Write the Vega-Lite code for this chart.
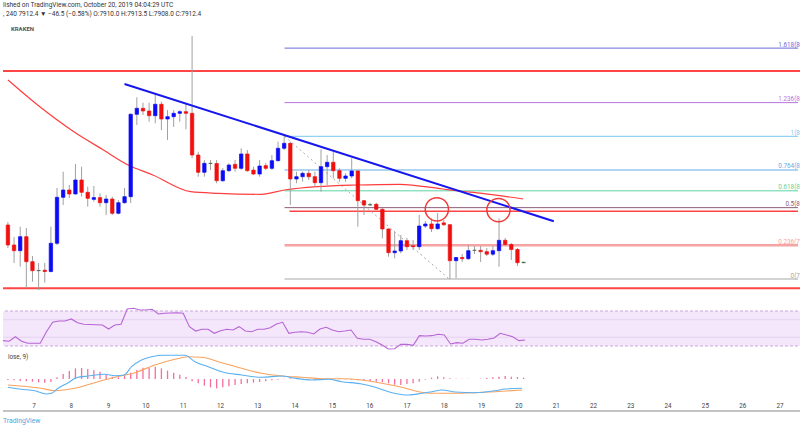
{
  "$schema": "https://vega.github.io/schema/vega-lite/v6.json",
  "background": "white",
  "padding": {"left": 0, "top": 2, "right": 0, "bottom": 0},
  "spacing": 0,
  "config": {
    "view": {"stroke": null},
    "font": "Roboto",
    "axis": {"gridColor": "#ececec", "gridWidth": 1}
  },
  "title": {
    "text": "lished on TradingView.com, October 20, 2019 04:04:29 UTC",
    "subtitle": ", 240  7912.4 ▼ −46.5 (−0.58%)  O:7910.0  H:7913.5  L:7908.0  C:7912.4",
    "anchor": "start",
    "frame": "group",
    "fontSize": 6.5,
    "fontWeight": "normal",
    "color": "#333333",
    "subtitleFontSize": 6.5,
    "subtitleColor": "#333333",
    "subtitlePadding": 2,
    "offset": 3
  },
  "datasets": {
    "candles": [
      {"t":6.1667,"o":8081.5,"h":8095,"l":7977,"c":7990.6},
      {"t":6.3333,"o":7990.6,"h":8027,"l":7909,"c":7964.7},
      {"t":6.5,"o":7964.7,"h":8073.7,"l":7892,"c":8028.3},
      {"t":6.6667,"o":8028.3,"h":8067.8,"l":7795,"c":7914.7},
      {"t":6.8333,"o":7914.7,"h":7940.6,"l":7823.8,"c":7873.8},
      {"t":7,"o":7873.8,"h":7908.8,"l":7786,"c":7875},
      {"t":7.1667,"o":7876,"h":7908.8,"l":7819.2,"c":7870},
      {"t":7.3333,"o":7870,"h":8073.7,"l":7866,"c":7998.3},
      {"t":7.5,"o":7998.3,"h":8249.6,"l":7990.6,"c":8207.4},
      {"t":7.6667,"o":8207.4,"h":8323.7,"l":8172.4,"c":8240.5},
      {"t":7.8333,"o":8240.5,"h":8263.3,"l":8204.2,"c":8222.4},
      {"t":8,"o":8222.4,"h":8358.7,"l":8220,"c":8286},
      {"t":8.1667,"o":8286,"h":8346.5,"l":8210.1,"c":8230.1},
      {"t":8.3333,"o":8230.1,"h":8255.6,"l":8164.7,"c":8202.8},
      {"t":8.5,"o":8198,"h":8258.7,"l":8187.4,"c":8206},
      {"t":8.6667,"o":8206,"h":8225.6,"l":8164.7,"c":8182.8},
      {"t":8.8333,"o":8182.8,"h":8217.8,"l":8126.9,"c":8199.6},
      {"t":9,"o":8199.6,"h":8210.1,"l":8126.9,"c":8134.7},
      {"t":9.1667,"o":8134.7,"h":8195.1,"l":8130,"c":8182.8},
      {"t":9.3333,"o":8182.8,"h":8249.6,"l":8178,"c":8210.1},
      {"t":9.5,"o":8210.1,"h":8589,"l":8181.5,"c":8584.6},
      {"t":9.6667,"o":8584.6,"h":8661.9,"l":8536,"c":8611.9},
      {"t":9.8333,"o":8611.9,"h":8637.3,"l":8581.4,"c":8599.6},
      {"t":10,"o":8599.6,"h":8637.3,"l":8551,"c":8578.2},
      {"t":10.1667,"o":8578.2,"h":8672.3,"l":8543.7,"c":8630.1},
      {"t":10.3333,"o":8630.1,"h":8641.9,"l":8513.2,"c":8563.2},
      {"t":10.5,"o":8563.2,"h":8604.1,"l":8467.8,"c":8573.7},
      {"t":10.6667,"o":8573.7,"h":8604.1,"l":8526.9,"c":8589.1},
      {"t":10.8333,"o":8589.1,"h":8604.1,"l":8551,"c":8596.4},
      {"t":11,"o":8596.4,"h":8631.4,"l":8516.4,"c":8589.1},
      {"t":11.1667,"o":8589.1,"h":8940.5,"l":8384.6,"c":8399.6},
      {"t":11.3333,"o":8399.6,"h":8414.6,"l":8301,"c":8321},
      {"t":11.5,"o":8321,"h":8376.9,"l":8301,"c":8361.9},
      {"t":11.6667,"o":8361.9,"h":8376.9,"l":8331.4,"c":8361},
      {"t":11.8333,"o":8361,"h":8376.9,"l":8271,"c":8282.8},
      {"t":12,"o":8282.8,"h":8340.5,"l":8276.9,"c":8328.3},
      {"t":12.1667,"o":8328.3,"h":8361.9,"l":8323.7,"c":8354.2},
      {"t":12.3333,"o":8357,"h":8376.9,"l":8323.7,"c":8339.2},
      {"t":12.5,"o":8339.2,"h":8430.1,"l":8331.4,"c":8404.2},
      {"t":12.6667,"o":8404.2,"h":8422.3,"l":8323.7,"c":8328.3},
      {"t":12.8333,"o":8331,"h":8346.5,"l":8308.7,"c":8313.3},
      {"t":13,"o":8313.3,"h":8376.9,"l":8301,"c":8349.6},
      {"t":13.1667,"o":8351,"h":8363.3,"l":8331.4,"c":8339.2},
      {"t":13.3333,"o":8339.2,"h":8399.6,"l":8331.4,"c":8373.7},
      {"t":13.5,"o":8373.7,"h":8460.1,"l":8370,"c":8430.1},
      {"t":13.6667,"o":8430.1,"h":8484.6,"l":8422.3,"c":8452.8},
      {"t":13.8333,"o":8452.8,"h":8460.1,"l":8172.4,"c":8290.5},
      {"t":14,"o":8290.5,"h":8323.7,"l":8271,"c":8301},
      {"t":14.1667,"o":8301,"h":8323.7,"l":8278.3,"c":8316.4},
      {"t":14.3333,"o":8316.4,"h":8331.4,"l":8286,"c":8301},
      {"t":14.5,"o":8301,"h":8323.7,"l":8255.6,"c":8273.7},
      {"t":14.6667,"o":8273.7,"h":8425.5,"l":8232.8,"c":8346.5},
      {"t":14.8333,"o":8346.5,"h":8399.6,"l":8263.3,"c":8366.5},
      {"t":15,"o":8366.5,"h":8414.6,"l":8293.7,"c":8328.3},
      {"t":15.1667,"o":8328.3,"h":8339.2,"l":8278.3,"c":8293.7},
      {"t":15.3333,"o":8293.7,"h":8316.4,"l":8278.3,"c":8304.2},
      {"t":15.5,"o":8304.2,"h":8384.6,"l":8293.7,"c":8326.9},
      {"t":15.6667,"o":8326.9,"h":8331.4,"l":8073.7,"c":8191.9},
      {"t":15.8333,"o":8191.9,"h":8195.1,"l":8126.9,"c":8172.4},
      {"t":16,"o":8172.4,"h":8182.8,"l":8167.8,"c":8174},
      {"t":16.1667,"o":8175.6,"h":8182.8,"l":8149.6,"c":8152.8},
      {"t":16.3333,"o":8152.8,"h":8157.4,"l":8021,"c":8063.3},
      {"t":16.5,"o":8063.3,"h":8066,"l":7937.4,"c":7955.6},
      {"t":16.6667,"o":7955.6,"h":8051,"l":7930.1,"c":7963.3},
      {"t":16.8333,"o":7963.3,"h":8036,"l":7952.9,"c":8010.1},
      {"t":17,"o":8010.1,"h":8022.4,"l":7967.8,"c":7982.8},
      {"t":17.1667,"o":7987,"h":8013.3,"l":7967.8,"c":7982.8},
      {"t":17.3333,"o":7982.8,"h":8126.9,"l":7967.8,"c":8076.9},
      {"t":17.5,"o":8076.9,"h":8099.7,"l":8067.8,"c":8086},
      {"t":17.6667,"o":8086,"h":8111.9,"l":8049.7,"c":8064.7},
      {"t":17.8333,"o":8064.7,"h":8136,"l":8060,"c":8086},
      {"t":18,"o":8091,"h":8104.2,"l":8076.9,"c":8082.8},
      {"t":18.1667,"o":8082.8,"h":8086,"l":7836,"c":7919.2},
      {"t":18.3333,"o":7919.2,"h":7936,"l":7839.2,"c":7933.8},
      {"t":18.5,"o":7933.8,"h":7949.7,"l":7913.3,"c":7928.3},
      {"t":18.6667,"o":7928.3,"h":7990.6,"l":7922.4,"c":7964.7},
      {"t":18.8333,"o":7966,"h":7986,"l":7949.7,"c":7966.5},
      {"t":19,"o":7966.5,"h":7986,"l":7913.3,"c":7960.1},
      {"t":19.1667,"o":7960.1,"h":7977,"l":7940.6,"c":7948.8},
      {"t":19.3333,"o":7948.8,"h":7986,"l":7940.6,"c":7964.7},
      {"t":19.5,"o":7964.7,"h":8111.9,"l":7891.9,"c":8011.9},
      {"t":19.6667,"o":8011.9,"h":8022.4,"l":7986,"c":7992.8},
      {"t":19.8333,"o":7992.8,"h":7999.7,"l":7922.4,"c":7970.1},
      {"t":20,"o":7970.1,"h":7977,"l":7895.1,"c":7910},
      {"t":20.1667,"o":7910,"h":7913.5,"l":7908,"c":7912.4}
    ],
    "ma": [
      {"t":6.169,"p":8740.5},{"t":6.973,"p":8626.9},{"t":7.957,"p":8505.5},{"t":8.761,"p":8422.3},
      {"t":9.432,"p":8354.2},{"t":10.102,"p":8308.7},{"t":11.129,"p":8232.8},{"t":11.879,"p":8225.6},
      {"t":13.051,"p":8221},{"t":13.676,"p":8240.5},{"t":14.56,"p":8255.6},{"t":15.633,"p":8263.3},
      {"t":16.804,"p":8266.5},{"t":17.965,"p":8245},{"t":18.413,"p":8236},{"t":19.038,"p":8225.6},
      {"t":20.155,"p":8199.6}
    ],
    "trend": [{"t":9.332,"p":8722.3},{"t":20.986,"p":8098.3}],
    "diag": [{"t":13.676,"p":8484.6},{"t":18.145,"p":7836}],
    "circles": [{"t":17.812,"p":8152.8},{"t":19.485,"p":8149.6}],
    "hfull": [{"p":8781.4},{"p":7793.8}],
    "hpart": [{"t1":13.81,"t2":27.6166,"p":8143.7}],
    "fib": [
      {"level":"1.618","p":8885.4,"label":"1.618(8885.40)"},
      {"level":"1.236","p":8637.7,"label":"1.236(8637.70)"},
      {"level":"1","p":8484.6,"label":"1(8484.60)"},
      {"level":"0.764","p":8331.5,"label":"0.764(8331.50)"},
      {"level":"0.618","p":8236.8,"label":"0.618(8236.80)"},
      {"level":"0.5","p":8160.3,"label":"0.5(8160.30)"},
      {"level":"0.236","p":7989.1,"label":"0.236(7989.10)"},
      {"level":"0","p":7836,"label":"0(7836.00)"}
    ],
    "exchange": [{"t":6.249,"p":8972,"txt":"KRAKEN"}],
    "rsi": [
      {"t":6.1667,"v":36.1},{"t":6.3333,"v":35.4},{"t":6.5,"v":40.6},{"t":6.6667,"v":35.4},{"t":6.8333,"v":33.1},
      {"t":7,"v":33.1},{"t":7.1667,"v":33.1},{"t":7.3333,"v":46.3},{"t":7.5,"v":57.1},{"t":7.6667,"v":58.6},
      {"t":7.8333,"v":58.6},{"t":8,"v":60.9},{"t":8.1667,"v":56.6},{"t":8.3333,"v":54.8},{"t":8.5,"v":54.6},
      {"t":8.6667,"v":54.3},{"t":8.8333,"v":54},{"t":9,"v":49.4},{"t":9.1667,"v":54},{"t":9.3333,"v":54.8},
      {"t":9.5,"v":72.3},{"t":9.6667,"v":73.1},{"t":9.8333,"v":71.1},{"t":10,"v":71.1},{"t":10.1667,"v":71.9},
      {"t":10.3333,"v":66.6},{"t":10.5,"v":67.4},{"t":10.6667,"v":67.7},{"t":10.8333,"v":67.9},{"t":11,"v":67.4},
      {"t":11.1667,"v":52.1},{"t":11.3333,"v":47.1},{"t":11.5,"v":49.1},{"t":11.6667,"v":49.1},{"t":11.8333,"v":44.5},
      {"t":12,"v":47.5},{"t":12.1667,"v":49.1},{"t":12.3333,"v":48.3},{"t":12.5,"v":52.1},{"t":12.6667,"v":47.1},
      {"t":12.8333,"v":46.3},{"t":13,"v":49.1},{"t":13.1667,"v":49.1},{"t":13.3333,"v":50.9},{"t":13.5,"v":55.1},
      {"t":13.6667,"v":57.1},{"t":13.8333,"v":44.5},{"t":14,"v":45.7},{"t":14.1667,"v":46.3},{"t":14.3333,"v":45.7},
      {"t":14.5,"v":43.7},{"t":14.6667,"v":49.4},{"t":14.8333,"v":51.4},{"t":15,"v":48.3},{"t":15.1667,"v":46.3},
      {"t":15.3333,"v":47.1},{"t":15.5,"v":48.3},{"t":15.6667,"v":38.8},{"t":15.8333,"v":37.7},{"t":16,"v":37.7},
      {"t":16.1667,"v":34.9},{"t":16.3333,"v":31.1},{"t":16.5,"v":26.6},{"t":16.6667,"v":26.9},{"t":16.8333,"v":31.9},
      {"t":17,"v":31.9},{"t":17.1667,"v":30.8},{"t":17.3333,"v":41.8},{"t":17.5,"v":41.4},{"t":17.6667,"v":41.8},
      {"t":17.8333,"v":43.4},{"t":18,"v":42.6},{"t":18.1667,"v":32.3},{"t":18.3333,"v":33.8},{"t":18.5,"v":33.1},
      {"t":18.6667,"v":37.7},{"t":18.8333,"v":37.7},{"t":19,"v":36.9},{"t":19.1667,"v":37.7},{"t":19.3333,"v":39.1},
      {"t":19.5,"v":44.5},{"t":19.6667,"v":42.6},{"t":19.8333,"v":40.6},{"t":20,"v":36.1},{"t":20.1667,"v":36.9}
    ],
    "rsiband": [{"lo":30,"hi":70}],
    "rsibounds": [{"v":30},{"v":70}],
    "rsimid": [{"v":40},{"v":60}],
    "hist": [
      {"t":6.1667,"v":-2},{"t":6.3333,"v":-2.7},{"t":6.5,"v":-4},{"t":6.6667,"v":-4.7},{"t":6.8333,"v":-5.3},
      {"t":7,"v":-6.7},{"t":7.1667,"v":-7.3},{"t":7.3333,"v":-6},{"t":7.5,"v":3.3},{"t":7.6667,"v":10},
      {"t":7.8333,"v":16},{"t":8,"v":21.3},{"t":8.1667,"v":22},{"t":8.3333,"v":20},{"t":8.5,"v":17.3},
      {"t":8.6667,"v":14.7},{"t":8.8333,"v":8.7},{"t":9,"v":4.7},{"t":9.1667,"v":3.3},{"t":9.3333,"v":7.3},
      {"t":9.5,"v":12.7},{"t":9.6667,"v":18},{"t":9.8333,"v":22.7},{"t":10,"v":22},{"t":10.1667,"v":24.7},
      {"t":10.3333,"v":21.3},{"t":10.5,"v":16.7},{"t":10.6667,"v":12.7},{"t":10.8333,"v":8.7},{"t":11,"v":4},
      {"t":11.1667,"v":-4.7},{"t":11.3333,"v":-8.7},{"t":11.5,"v":-13.3},{"t":11.6667,"v":-16.7},{"t":11.8333,"v":-18.7},
      {"t":12,"v":-16.7},{"t":12.1667,"v":-14.7},{"t":12.3333,"v":-12},{"t":12.5,"v":-10},{"t":12.6667,"v":-8.7},
      {"t":12.8333,"v":-7.3},{"t":13,"v":-6},{"t":13.1667,"v":-4.7},{"t":13.3333,"v":-2.7},{"t":13.5,"v":-1.3},
      {"t":13.6667,"v":0.7},{"t":13.8333,"v":1.3},{"t":14,"v":0.7},{"t":14.1667,"v":0},{"t":14.3333,"v":-0.7},
      {"t":14.5,"v":-1.3},{"t":14.6667,"v":-0.7},{"t":14.8333,"v":0.7},{"t":15,"v":0},{"t":15.1667,"v":-0.7},
      {"t":15.3333,"v":-0.7},{"t":15.5,"v":-1.3},{"t":15.6667,"v":-2.7},{"t":15.8333,"v":-3.3},{"t":16,"v":-4},
      {"t":16.1667,"v":-5.3},{"t":16.3333,"v":-6.7},{"t":16.5,"v":-8.7},{"t":16.6667,"v":-11.3},{"t":16.8333,"v":-12},
      {"t":17,"v":-10},{"t":17.1667,"v":-8.7},{"t":17.3333,"v":-5.3},{"t":17.5,"v":-1.3},{"t":17.6667,"v":2.7},
      {"t":17.8333,"v":5.3},{"t":18,"v":3.3},{"t":18.1667,"v":1.3},{"t":18.3333,"v":0.7},{"t":18.5,"v":0.7},
      {"t":18.6667,"v":0.7},{"t":18.8333,"v":0},{"t":19,"v":0.7},{"t":19.1667,"v":2},{"t":19.3333,"v":3.3},
      {"t":19.5,"v":4.7},{"t":19.6667,"v":6},{"t":19.8333,"v":4.7},{"t":20,"v":4},{"t":20.1667,"v":2.7}
    ],
    "macd": [
      {"t":6.169,"v":-16.6},{"t":6.531,"v":-20.6},{"t":6.893,"v":-23.4},{"t":7.212,"v":-30},{"t":7.349,"v":-28.6},
      {"t":7.528,"v":-18.6},{"t":7.802,"v":-7.4},{"t":8.027,"v":2.6},{"t":8.343,"v":6},{"t":8.796,"v":9.4},
      {"t":9.07,"v":6.6},{"t":9.322,"v":8},{"t":9.523,"v":24.6},{"t":9.794,"v":38},{"t":10.067,"v":44.6},
      {"t":10.429,"v":47.4},{"t":10.973,"v":47.4},{"t":11.244,"v":34.6},{"t":11.606,"v":24.6},{"t":11.97,"v":14.6},
      {"t":12.512,"v":8},{"t":13.056,"v":3.4},{"t":13.601,"v":6},{"t":13.962,"v":1.4},{"t":14.416,"v":-2},
      {"t":14.869,"v":-0.6},{"t":15.233,"v":-5.4},{"t":15.775,"v":-10},{"t":16.139,"v":-16.6},{"t":16.592,"v":-27.4},
      {"t":17.046,"v":-32},{"t":17.408,"v":-28.6},{"t":17.678,"v":-25.4},{"t":17.952,"v":-22},{"t":18.314,"v":-26},
      {"t":18.858,"v":-27.4},{"t":19.402,"v":-23.4},{"t":19.673,"v":-20},{"t":20.126,"v":-18.6}
    ],
    "signal": [
      {"t":6.169,"v":-12},{"t":6.713,"v":-15.4},{"t":7.075,"v":-18.6},{"t":7.437,"v":-23.4},{"t":7.981,"v":-18.6},
      {"t":8.525,"v":-7.4},{"t":9.07,"v":3.4},{"t":9.614,"v":12.6},{"t":10.156,"v":28},{"t":10.7,"v":39.4},
      {"t":11.064,"v":44.6},{"t":11.426,"v":43.4},{"t":11.97,"v":32.6},{"t":12.512,"v":21.4},{"t":13.056,"v":11.4},
      {"t":13.601,"v":6},{"t":14.145,"v":3.4},{"t":14.689,"v":0.6},{"t":15.233,"v":0.6},{"t":15.775,"v":-2},
      {"t":16.319,"v":-8.6},{"t":16.863,"v":-16.6},{"t":17.316,"v":-25.4},{"t":17.678,"v":-28.6},{"t":18.134,"v":-28.6},
      {"t":18.858,"v":-27.4},{"t":19.402,"v":-25.4},{"t":20.126,"v":-22}
    ],
    "macdlabel": [{"t":6.1689,"v":44,"txt":"lose, 9)"}],
    "days": [
      {"t":7,"row":8},{"t":8,"row":8},{"t":9,"row":8},{"t":10,"row":8},{"t":11,"row":8},{"t":12,"row":8},{"t":13,"row":8},
      {"t":14,"row":8},{"t":15,"row":8},{"t":16,"row":8},{"t":17,"row":8},{"t":18,"row":8},{"t":19,"row":8},{"t":20,"row":8},
      {"t":21,"row":8},{"t":22,"row":8},{"t":23,"row":8},{"t":24,"row":8},{"t":25,"row":8},{"t":26,"row":8},{"t":27,"row":8}
    ],
    "footer": [{"row":13}],
    "brand": [{"t":6.1689,"row":23,"txt":"TradingView"}]
  },
  "vconcat": [
    {
      "width": 800,
      "height": 286,
      "layer": [
        {
          "data": {"name": "hfull"},
          "mark": {"type": "rule", "color": "#ff4545", "strokeWidth": 2},
          "encoding": {
            "y": {"field": "p", "type": "quantitative", "scale": {"domain": [7713.3, 9013.2], "nice": false, "zero": false}, "axis": null}
          }
        },
        {
          "data": {"name": "hpart"},
          "mark": {"type": "rule", "color": "#ff4545", "strokeWidth": 1.5},
          "encoding": {
            "x": {"field": "t1", "type": "quantitative", "scale": {"domain": [6.1689, 27.6166], "nice": false, "zero": false}, "axis": null},
            "x2": {"field": "t2"},
            "y": {"field": "p", "type": "quantitative", "axis": null}
          }
        },
        {
          "data": {"name": "fib"},
          "mark": {"type": "rule"},
          "encoding": {
            "x": {"datum": 13.676, "type": "quantitative", "axis": null},
            "x2": {"datum": 27.6166},
            "y": {"field": "p", "type": "quantitative", "axis": null},
            "color": {"field": "level", "type": "nominal", "legend": null,
              "scale": {"domain": ["1.618","1.236","1","0.764","0.618","0.5","0.236","0"],
                        "range": ["#6b6bdc","#b675e0","#78c8ee","#62ace6","#5dd3a2","#8e5b77","#f5a3a3","#a8a8a8"]}},
            "strokeWidth": {"condition": {"test": "datum.level === '0.236'", "value": 2.5}, "value": 1}
          }
        },
        {
          "data": {"name": "fib"},
          "mark": {"type": "text", "align": "right", "baseline": "bottom", "dy": -0.5, "fontSize": 6.3},
          "encoding": {
            "x": {"datum": 28.252, "type": "quantitative", "axis": null},
            "y": {"field": "p", "type": "quantitative", "axis": null},
            "text": {"field": "label"},
            "color": {"field": "level", "type": "nominal", "legend": null}
          }
        },
        {
          "data": {"name": "diag"},
          "mark": {"type": "line", "color": "#a9a9a9", "strokeWidth": 1, "strokeDash": [2, 3]},
          "encoding": {
            "x": {"field": "t", "type": "quantitative", "axis": null},
            "y": {"field": "p", "type": "quantitative", "axis": null}
          }
        },
        {
          "data": {"name": "ma"},
          "mark": {"type": "line", "color": "#ff3d3d", "strokeWidth": 1.2, "interpolate": "monotone"},
          "encoding": {
            "x": {"field": "t", "type": "quantitative", "axis": null},
            "y": {"field": "p", "type": "quantitative", "axis": null}
          }
        },
        {
          "data": {"name": "candles"},
          "mark": {"type": "rule", "color": "#a0a0a0", "strokeWidth": 1},
          "encoding": {
            "x": {"field": "t", "type": "quantitative",
              "axis": {"values": [7,8,9,10,11,12,13,14,15,16,17,18,19,20,21,22,23,24,25,26,27], "labels": false, "ticks": false, "domain": false, "title": null, "grid": true}},
            "y": {"field": "l", "type": "quantitative",
              "axis": {"orient": "right", "values": [7800,7900,8000,8100,8200,8300,8400,8500,8600,8700,8800,8900,9000], "labels": false, "ticks": false, "domain": false, "title": null, "grid": true}},
            "y2": {"field": "h"}
          }
        },
        {
          "data": {"name": "candles"},
          "mark": {"type": "bar", "width": 3.4, "strokeWidth": 0.7},
          "encoding": {
            "x": {"field": "t", "type": "quantitative", "axis": null},
            "y": {"field": "o", "type": "quantitative", "axis": null},
            "y2": {"field": "c"},
            "fill": {"condition": [{"test": "abs(datum.c - datum.o) < 3", "value": "#3d6b4a"}, {"test": "datum.c > datum.o", "value": "#0b0bf5"}], "value": "#f01010"},
            "stroke": {"condition": [{"test": "abs(datum.c - datum.o) < 3", "value": "#3d6b4a"}, {"test": "datum.c > datum.o", "value": "#0b0bf5"}], "value": "#f01010"}
          }
        },
        {
          "data": {"name": "trend"},
          "mark": {"type": "line", "color": "#1616ee", "strokeWidth": 2},
          "encoding": {
            "x": {"field": "t", "type": "quantitative", "axis": null},
            "y": {"field": "p", "type": "quantitative", "axis": null}
          }
        },
        {
          "data": {"name": "circles"},
          "mark": {"type": "point", "shape": "circle", "filled": false, "size": 540, "color": "#ef3b3b", "strokeWidth": 1.5, "opacity": 1},
          "encoding": {
            "x": {"field": "t", "type": "quantitative", "axis": null},
            "y": {"field": "p", "type": "quantitative", "axis": null}
          }
        },
        {
          "data": {"name": "exchange"},
          "mark": {"type": "text", "align": "left", "baseline": "middle", "fontSize": 6, "fontWeight": "bold", "color": "#555555"},
          "encoding": {
            "x": {"field": "t", "type": "quantitative", "axis": null},
            "y": {"field": "p", "type": "quantitative", "axis": null},
            "text": {"field": "txt"}
          }
        },
        {
          "mark": {"type": "rule", "color": "#c4c4c4", "strokeWidth": 2},
          "encoding": {
            "y": {"datum": 7713.3, "type": "quantitative", "axis": null}
          }
        }
      ]
    },
    {
      "width": 800,
      "height": 46,
      "layer": [
        {
          "data": {"name": "rsiband"},
          "mark": {"type": "rect", "color": "#c27be8", "opacity": 0.18},
          "encoding": {
            "x": {"datum": 6.1689, "type": "quantitative", "scale": {"domain": [6.1689, 27.6166], "nice": false, "zero": false},
              "axis": {"values": [7,8,9,10,11,12,13,14,15,16,17,18,19,20,21,22,23,24,25,26,27], "labels": false, "ticks": false, "domain": false, "title": null, "grid": true}},
            "x2": {"datum": 27.6166},
            "y": {"field": "lo", "type": "quantitative", "scale": {"domain": [23.14, 75.7], "nice": false, "zero": false}, "axis": null},
            "y2": {"field": "hi"}
          }
        },
        {
          "data": {"name": "rsimid"},
          "mark": {"type": "rule", "color": "#e4d2f1", "strokeWidth": 1},
          "encoding": {"y": {"field": "v", "type": "quantitative", "axis": null}}
        },
        {
          "data": {"name": "rsibounds"},
          "mark": {"type": "rule", "color": "#c9a6da", "strokeWidth": 1, "strokeDash": [3, 2]},
          "encoding": {"y": {"field": "v", "type": "quantitative", "axis": null}}
        },
        {
          "data": {"name": "rsi"},
          "mark": {"type": "line", "color": "#b765d6", "strokeWidth": 1.1},
          "encoding": {
            "x": {"field": "t", "type": "quantitative", "axis": null},
            "y": {"field": "v", "type": "quantitative", "axis": null}
          }
        },
        {
          "mark": {"type": "rule", "color": "#c4c4c4", "strokeWidth": 2},
          "encoding": {"y": {"datum": 23.14, "type": "quantitative", "axis": null}}
        }
      ]
    },
    {
      "width": 800,
      "height": 46,
      "layer": [
        {
          "data": {"name": "hist"},
          "mark": {"type": "bar", "width": 1.3, "color": "#f46e9e"},
          "encoding": {
            "x": {"field": "t", "type": "quantitative", "scale": {"domain": [6.1689, 27.6166], "nice": false, "zero": false},
              "axis": {"values": [7,8,9,10,11,12,13,14,15,16,17,18,19,20,21,22,23,24,25,26,27], "labels": false, "ticks": false, "domain": false, "title": null, "grid": true}},
            "y": {"field": "v", "type": "quantitative", "scale": {"domain": [-38, 54], "nice": false, "zero": false},
              "axis": {"orient": "right", "values": [40], "labels": false, "ticks": false, "domain": false, "title": null, "grid": true}},
            "y2": {"datum": 0}
          }
        },
        {
          "mark": {"type": "rule", "color": "#d2d2d2", "strokeWidth": 1},
          "encoding": {"y": {"datum": 0, "type": "quantitative", "axis": null}}
        },
        {
          "data": {"name": "signal"},
          "mark": {"type": "line", "color": "#f9a35f", "strokeWidth": 1.1, "interpolate": "monotone"},
          "encoding": {
            "x": {"field": "t", "type": "quantitative", "axis": null},
            "y": {"field": "v", "type": "quantitative", "axis": null}
          }
        },
        {
          "data": {"name": "macd"},
          "mark": {"type": "line", "color": "#5ab0f2", "strokeWidth": 1.1, "interpolate": "monotone"},
          "encoding": {
            "x": {"field": "t", "type": "quantitative", "axis": null},
            "y": {"field": "v", "type": "quantitative", "axis": null}
          }
        },
        {
          "data": {"name": "macdlabel"},
          "mark": {"type": "text", "align": "left", "baseline": "middle", "fontSize": 6.3, "color": "#444444"},
          "encoding": {
            "x": {"field": "t", "type": "quantitative", "axis": null},
            "y": {"field": "v", "type": "quantitative", "axis": null},
            "text": {"field": "txt"}
          }
        },
        {
          "mark": {"type": "rule", "color": "#c4c4c4", "strokeWidth": 2},
          "encoding": {"y": {"datum": -38, "type": "quantitative", "axis": null}}
        }
      ]
    },
    {
      "width": 800,
      "height": 28,
      "layer": [
        {
          "data": {"name": "footer"},
          "mark": {"type": "rule", "color": "#c4c4c4", "strokeWidth": 2},
          "encoding": {
            "y": {"field": "row", "type": "quantitative", "scale": {"domain": [28, 0], "nice": false, "zero": false}, "axis": null}
          }
        },
        {
          "data": {"name": "days"},
          "mark": {"type": "text", "align": "center", "baseline": "middle", "fontSize": 6.3, "color": "#444444"},
          "encoding": {
            "x": {"field": "t", "type": "quantitative", "scale": {"domain": [6.1689, 27.6166], "nice": false, "zero": false}, "axis": null},
            "y": {"field": "row", "type": "quantitative", "axis": null},
            "text": {"field": "t", "type": "quantitative"}
          }
        },
        {
          "data": {"name": "brand"},
          "mark": {"type": "text", "align": "left", "baseline": "middle", "fontSize": 6.8, "color": "#4aa8e0"},
          "encoding": {
            "x": {"field": "t", "type": "quantitative", "axis": null},
            "y": {"field": "row", "type": "quantitative", "axis": null},
            "text": {"field": "txt"}
          }
        }
      ]
    }
  ]
}
